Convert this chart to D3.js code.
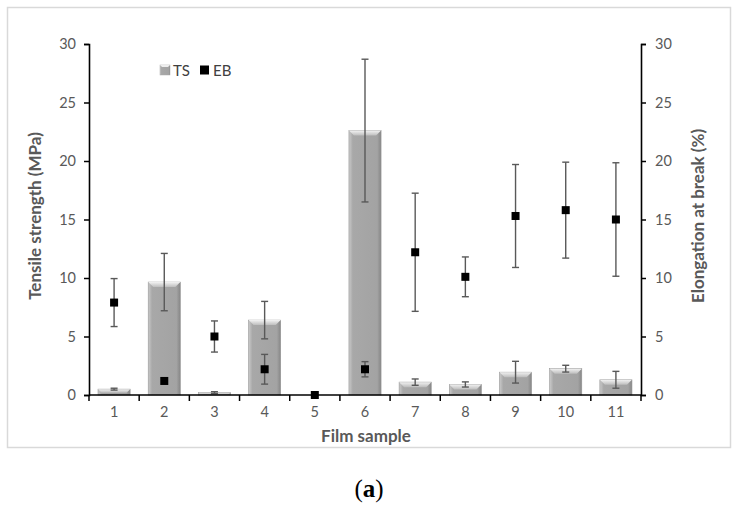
<!DOCTYPE html>
<html>
<head>
<script src="https://d3js.org/d3.v7.min.js"></script>
<style>
  body { margin: 0; background: #fff; }
  text { font-family: Lato, "Open Sans", sans-serif; }
</style>
</head>
<body>
<svg id="chart" width="739" height="507"></svg>
<script>
// data
var samples = ["1", "2", "3", "4", "5", "6", "7", "8", "9", "10", "11"];
var tsMean = [0.5, 9.65, 0.2, 6.4, 0, 22.6, 1.1, 0.9, 1.95, 2.25, 1.3];
var tsErr  = [0.08, 2.45, 0.08, 1.6, 0, 6.1, 0.27, 0.22, 0.93, 0.29, 0.72];
var ebMean = [7.9, 1.2, 5.0, 2.2, 0, 2.2, 12.2, 10.1, 15.3, 15.8, 15.0];
var ebErr  = [2.05, 0, 1.33, 1.27, 0, 0.65, 5.05, 1.7, 4.4, 4.1, 4.85];
var yTicks = [0, 5, 10, 15, 20, 25, 30];

var svg = d3.select("#chart");
var margin = {left: 89, right: 98, top: 44, bottom: 112};
var width = 739, height = 507;
var x0 = margin.left, x1 = width - margin.right;
var yTop = margin.top, yBot = height - margin.bottom;

var x = d3.scaleBand().domain(samples).range([x0, x1]).paddingInner(0.36).paddingOuter(0.18);
var xb = d3.scaleBand().domain(samples).range([x0, x1]);
var yL = d3.scaleLinear().domain([0, 30]).range([yBot, yTop]);
var yR = d3.scaleLinear().domain([0, 30]).range([yBot, yTop]);

// outer frame
svg.append("rect").attr("x", 7.5).attr("y", 7.5).attr("width", 723).attr("height", 440)
  .attr("fill", "none").attr("stroke", "#d9d9d9").attr("stroke-width", 1.5);

var defs = svg.append("defs");
var g1 = defs.append("linearGradient").attr("id", "barGrad").attr("x1", 0).attr("x2", 1).attr("y1", 0).attr("y2", 0);
g1.append("stop").attr("offset", "0%").attr("stop-color", "#cacaca");
g1.append("stop").attr("offset", "12%").attr("stop-color", "#a8a8a8");
g1.append("stop").attr("offset", "88%").attr("stop-color", "#a3a3a3");
g1.append("stop").attr("offset", "100%").attr("stop-color", "#868686");
var g2 = defs.append("linearGradient").attr("id", "topGrad").attr("x1", 0).attr("x2", 0).attr("y1", 0).attr("y2", 1);
g2.append("stop").attr("offset", "0%").attr("stop-color", "#f2f2f2");
g2.append("stop").attr("offset", "100%").attr("stop-color", "#bdbdbd");

var bars = samples.map(function(s, i) { return {s: s, v: tsMean[i], e: tsErr[i], eb: ebMean[i], ebe: ebErr[i]}; });

// bars
var bg = svg.append("g");
bg.selectAll("rect.bar").data(bars.filter(function(d) { return d.v > 0; })).enter().append("rect")
  .attr("class", "bar")
  .attr("x", function(d) { return x(d.s); })
  .attr("y", function(d) { return yL(d.v); })
  .attr("width", x.bandwidth())
  .attr("height", function(d) { return yBot - yL(d.v); })
  .attr("fill", "url(#barGrad)")
  .attr("stroke", "#959595").attr("stroke-width", 0.6);

// top bevel
bg.selectAll("path.bevel").data(bars.filter(function(d) { return d.v > 0; })).enter().append("path")
  .attr("class", "bevel")
  .attr("d", function(d) {
    var l = x(d.s), r = l + x.bandwidth(), t = yL(d.v);
    var h = Math.min(5, (yBot - t) * 0.6);
    return "M" + l + "," + t + "L" + r + "," + t + "L" + (r - h) + "," + (t + h) + "L" + (l + h) + "," + (t + h) + "Z";
  })
  .attr("fill", "url(#topGrad)");

// error bars
function errBars(data, key, ekey, yScale) {
  var eg = svg.append("g").attr("stroke", "#595959").attr("stroke-width", 1.4).attr("fill", "none");
  data.filter(function(d) { return d[ekey] > 0; }).forEach(function(d) {
    var cx = x(d.s) + x.bandwidth() / 2;
    var hi = yScale(d[key] + d[ekey]), lo = yScale(Math.max(0, d[key] - d[ekey]));
    eg.append("line").attr("x1", cx).attr("x2", cx).attr("y1", hi).attr("y2", lo);
    eg.append("line").attr("x1", cx - 3.5).attr("x2", cx + 3.5).attr("y1", hi).attr("y2", hi);
    eg.append("line").attr("x1", cx - 3.5).attr("x2", cx + 3.5).attr("y1", lo).attr("y2", lo);
  });
}
errBars(bars, "v", "e", yL);
errBars(bars, "eb", "ebe", yR);

// EB markers
svg.append("g").selectAll("rect").data(bars).enter().append("rect")
  .attr("x", function(d) { return x(d.s) + x.bandwidth() / 2 - 4; })
  .attr("y", function(d) { return yR(d.eb) - 4; })
  .attr("width", 8).attr("height", 8).attr("fill", "#000");

// axes
var axL = svg.append("g").attr("transform", "translate(" + x0 + ",0)")
  .call(d3.axisLeft(yL).tickValues(yTicks).tickSize(5).tickPadding(8));
var axR = svg.append("g").attr("transform", "translate(" + x1 + ",0)")
  .call(d3.axisRight(yR).tickValues(yTicks).tickSize(5).tickPadding(9));
var axB = svg.append("g").attr("transform", "translate(0," + yBot + ")")
  .call(d3.axisBottom(xb).tickSize(0).tickPadding(12));
// boundary ticks of the category axis
axB.selectAll("line.bt").data(d3.range(samples.length + 1)).enter().append("line")
  .attr("class", "bt")
  .attr("x1", function(i) { return x0 + i * xb.step(); })
  .attr("x2", function(i) { return x0 + i * xb.step(); })
  .attr("y1", 0).attr("y2", 6).attr("stroke", "#000").attr("stroke-width", 1.5);

[axL, axR, axB].forEach(function(a) {
  a.select(".domain").attr("stroke", "#000").attr("stroke-width", 1.6);
  a.selectAll(".tick line").attr("stroke", "#000").attr("stroke-width", 1.5);
  a.selectAll("text").attr("fill", "#595959").style("font-size", "14.5px").style("font-family", "Lato, 'Open Sans', sans-serif");
});
axB.select(".domain").attr("d", "M" + x0 + ",0H" + x1);

// axis titles
svg.append("text").attr("transform", "translate(41," + 216 + ") rotate(-90)")
  .attr("text-anchor", "middle").attr("fill", "#595959")
  .style("font-size", "17px").style("font-weight", "bold").text("Tensile strength (MPa)");
svg.append("text").attr("transform", "translate(704," + 216 + ") rotate(-90)")
  .attr("text-anchor", "middle").attr("fill", "#595959")
  .style("font-size", "17px").style("font-weight", "bold").text("Elongation at break (%)");
svg.append("text").attr("x", 366).attr("y", 442)
  .attr("text-anchor", "middle").attr("fill", "#595959")
  .style("font-size", "17px").style("font-weight", "bold").text("Film sample");

// legend
var lg = svg.append("g").attr("transform", "translate(160,70)");
lg.append("rect").attr("x", 0).attr("y", -5).attr("width", 10).attr("height", 10).attr("fill", "url(#barGrad)").attr("stroke", "#aaa").attr("stroke-width", 0.5);
lg.append("path").attr("d", "M0,-5L10,-5L8,-3L2,-3Z").attr("fill", "#eee");
lg.append("text").attr("x", 13).attr("y", 5.5).attr("fill", "#404040").style("font-size", "15px").text("TS");
lg.append("rect").attr("x", 40).attr("y", -4.5).attr("width", 9).attr("height", 9).attr("fill", "#000");
lg.append("text").attr("x", 53).attr("y", 5.5).attr("fill", "#404040").style("font-size", "15px").text("EB");

// caption
var cap = svg.append("text").attr("x", 369).attr("y", 497).attr("text-anchor", "middle")
  .style("font-family", "'Liberation Serif', 'DejaVu Serif', serif").style("font-size", "25px").attr("fill", "#000");
cap.append("tspan").text("(");
cap.append("tspan").style("font-weight", "bold").text("a");
cap.append("tspan").text(")");
</script>
</body>
</html>
